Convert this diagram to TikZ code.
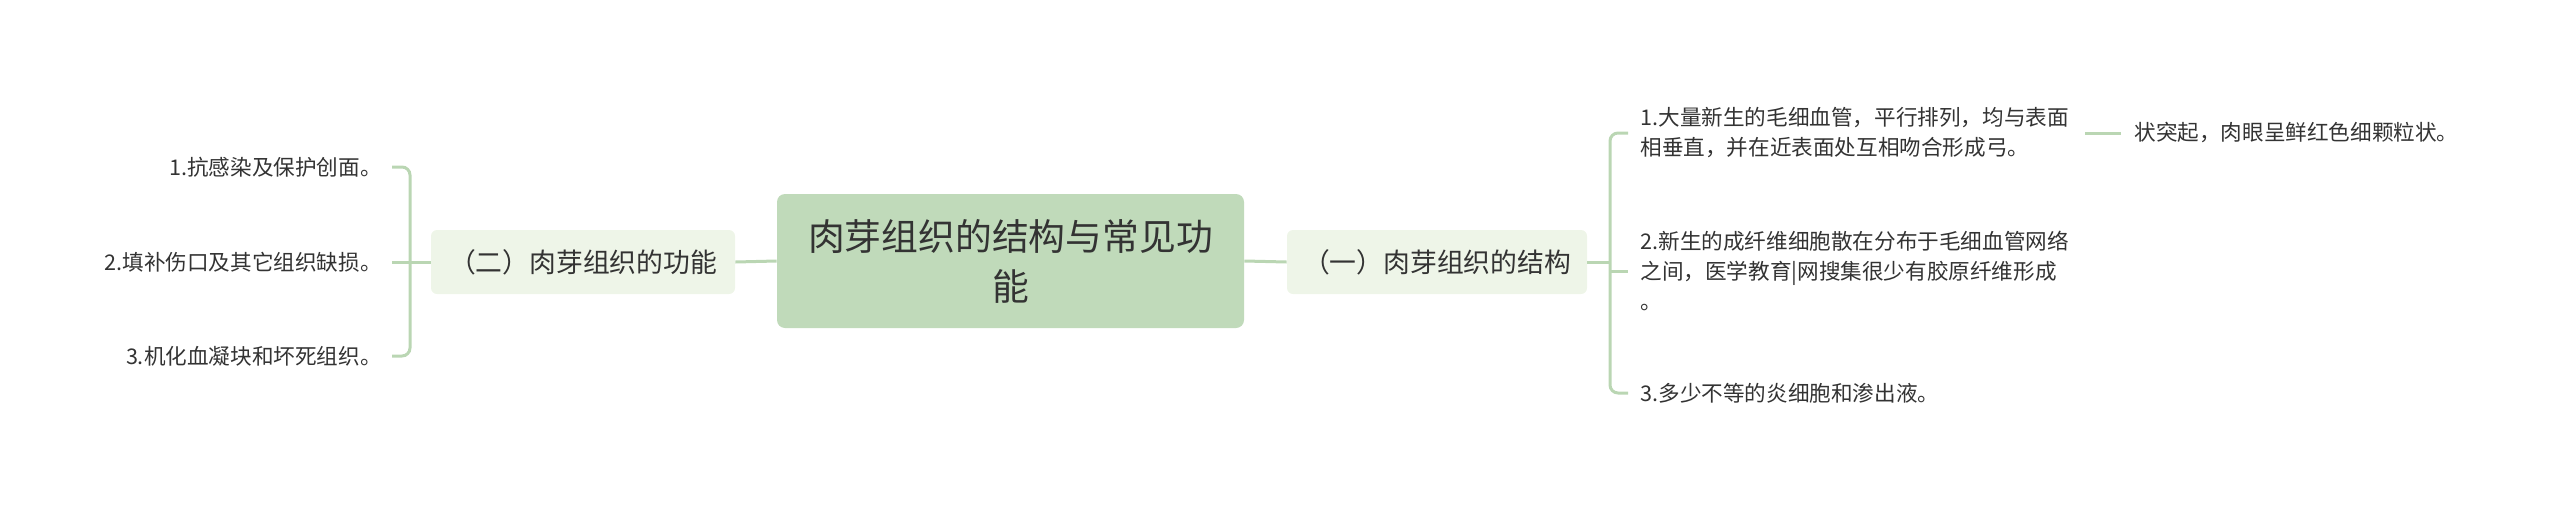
\documentclass[tikz,border=0pt]{standalone}
\usepackage{fontspec}
\setmainfont{Noto Sans CJK SC}
\definecolor{rootfill}{HTML}{C0DABA}
\definecolor{subfill}{HTML}{EEF5E8}
\definecolor{linec}{HTML}{BAD6B3}
\definecolor{txt}{HTML}{333333}
\tikzset{
  rootbox/.style={draw=none, fill=rootfill, rounded corners=4pt, minimum width=233.5pt, minimum height=67pt, align=center, text=txt, font=\fontsize{18.4pt}{25pt}\selectfont, inner sep=0pt},
  subbox/.style={draw=none, fill=subfill, rounded corners=3pt, minimum height=32pt, align=center, text=txt, font=\fontsize{13.4pt}{16pt}\selectfont, inner sep=0pt},
  leafl/.style={anchor=east, align=right, text=txt, font=\fontsize{10.8pt}{15pt}\selectfont, inner sep=0pt},
  leafr/.style={anchor=west, align=left, text=txt, font=\fontsize{10.8pt}{15pt}\selectfont, inner sep=0pt},
  conn/.style={draw=linec, line width=1.5pt},
}
\begin{document}
\begin{tikzpicture}[x=0.5pt,y=-0.5pt]
\useasboundingbox (0,0) rectangle (2560,509);
\node[rootbox] (root) at (1010.5,261) {肉芽组织的结构与常见功\\能};
\node[subbox, minimum width=150pt] (c1) at (1437,262) {（一）肉芽组织的结构};
\node[subbox, minimum width=152pt] (c2) at (583,262) {（二）肉芽组织的功能};
\node[leafl] (l1) at (382,167) {1.抗感染及保护创面。};
\node[leafl] (l2) at (382,262) {2.填补伤口及其它组织缺损。};
\node[leafl] (l3) at (382,356) {3.机化血凝块和坏死组织。};
\node[leafr] (r1) at (1640,133) {1.大量新生的毛细血管，平行排列，均与表面\\相垂直，并在近表面处互相吻合形成弓。};
\node[leafr] (r2) at (1640,271) {2.新生的成纤维细胞散在分布于毛细血管网络\\之间，医学教育|网搜集很少有胶原纤维形成\\。};
\node[leafr] (r3) at (1640,393) {3.多少不等的炎细胞和渗出液。};
\node[leafr] (r1c) at (2134,133) {状突起，肉眼呈鲜红色细颗粒状。};
\coordinate (rb) at (1610,262);
\coordinate (lb) at (410,262);
% root connectors
\draw[conn] (root.west) -- (c2.east);
\draw[conn] (root.east) -- (c1.west);
% left bracket
\draw[conn, rounded corners=4pt] ([xshift=5pt]l1.east) -| (lb) |- ([xshift=5pt]l3.east);
\draw[conn] (c2.west) -- ([xshift=5pt]l2.east);
% right bracket
\draw[conn, rounded corners=4pt] ([xshift=-6pt]r1.west) -| (rb) |- ([xshift=-6pt]r3.west);
\draw[conn] (c1.east) -- (rb);
\draw[conn] (rb |- r2.west) -- ([xshift=-6pt]r2.west);
% leaf to its child
\draw[conn] ([xshift=8pt]r1.east) -- ([xshift=-6.5pt]r1c.west);
\end{tikzpicture}
\end{document}
